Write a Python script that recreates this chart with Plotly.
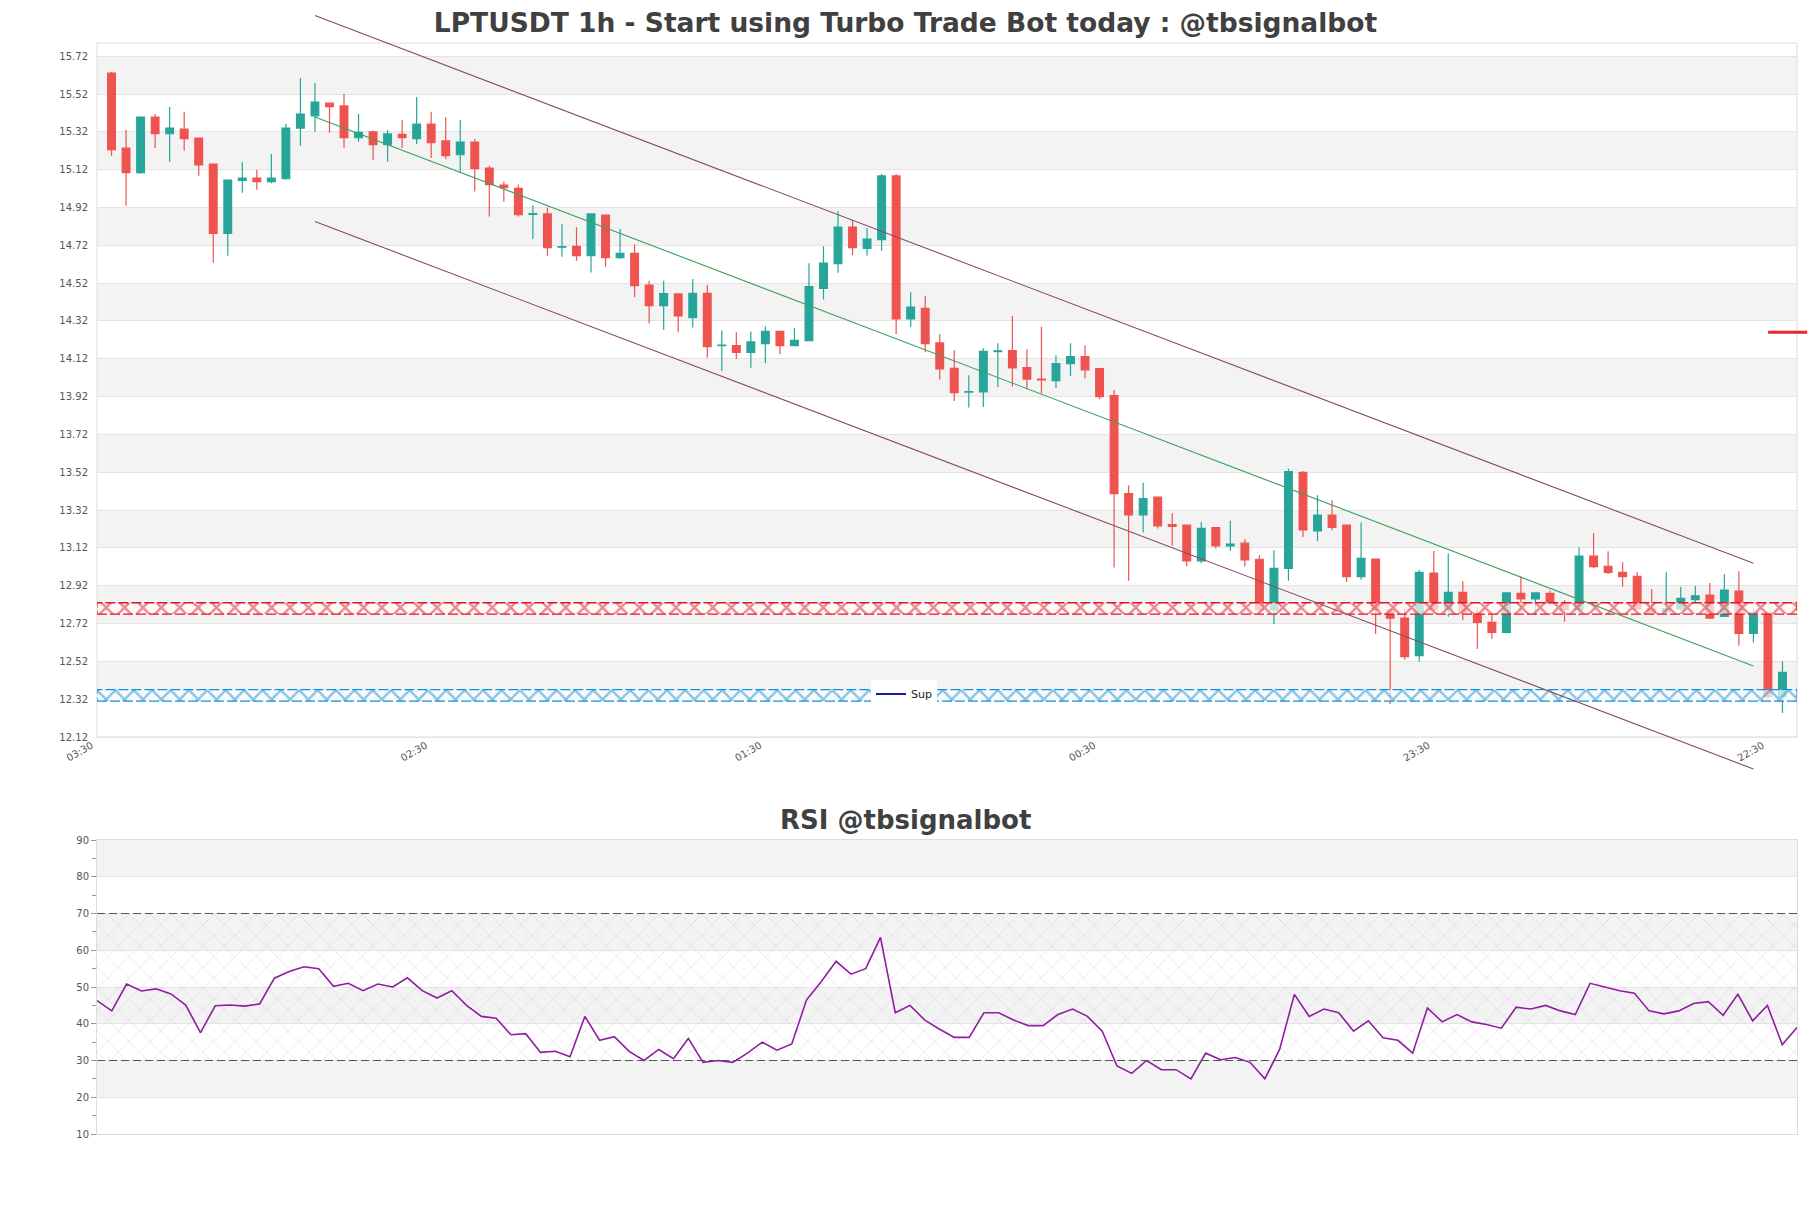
import plotly.graph_objects as go

# ---------------- data ----------------
TITLE = "LPTUSDT 1h - Start using Turbo Trade Bot today : @tbsignalbot"
RSI_TITLE = "RSI @tbsignalbot"

OPEN = [15.631, 15.234, 15.104, 15.398, 15.310, 15.335, 15.287, 15.150, 14.783, 15.064,
        15.076, 15.057, 15.072, 15.340, 15.405, 15.472, 15.457, 15.289, 15.320, 15.252,
        15.307, 15.284, 15.361, 15.272, 15.199, 15.266, 15.129, 15.039, 15.021, 14.884,
        14.886, 14.710, 14.715, 14.665, 14.880, 14.655, 14.678, 14.510, 14.401, 14.463,
        14.337, 14.466, 14.189, 14.190, 14.154, 14.200, 14.265, 14.190, 14.216, 14.492,
        14.623, 14.817, 14.704, 14.750, 15.087, 14.331, 14.387, 14.204, 14.070, 13.944,
        13.945, 14.158, 14.163, 14.073, 14.012, 14.005, 14.094, 14.131, 14.068, 13.925,
        13.407, 13.294, 13.388, 13.243, 13.240, 13.051, 13.227, 13.130, 13.145, 13.060,
        12.792, 13.012, 13.519, 13.210, 13.293, 13.240, 12.968, 13.061, 12.792, 12.749,
        12.550, 12.987, 12.797, 12.885, 12.776, 12.726, 12.673, 12.880, 12.850, 12.880,
        12.827, 12.793, 13.076, 13.023, 12.991, 12.970, 12.800, 12.783, 12.797, 12.846,
        12.871, 12.758, 12.892, 12.668, 12.776, 12.333]
HIGH = [15.636, 15.330, 15.400, 15.414, 15.451, 15.427, 15.290, 15.153, 15.065, 15.160,
        15.118, 15.203, 15.361, 15.605, 15.578, 15.472, 15.520, 15.414, 15.326, 15.330,
        15.383, 15.504, 15.427, 15.397, 15.383, 15.282, 15.141, 15.058, 15.042, 14.933,
        14.920, 14.831, 14.815, 14.886, 14.880, 14.806, 14.724, 14.533, 14.533, 14.463,
        14.542, 14.510, 14.269, 14.261, 14.265, 14.292, 14.265, 14.281, 14.625, 14.715,
        14.902, 14.854, 14.810, 15.097, 15.097, 14.472, 14.454, 14.251, 14.165, 14.033,
        14.176, 14.202, 14.346, 14.170, 14.290, 14.138, 14.202, 14.191, 14.073, 13.955,
        13.451, 13.464, 13.388, 13.303, 13.240, 13.257, 13.227, 13.263, 13.166, 13.081,
        13.108, 13.539, 13.527, 13.398, 13.372, 13.240, 13.254, 13.061, 12.792, 12.806,
        13.003, 13.104, 13.091, 12.943, 12.806, 12.767, 12.885, 12.970, 12.885, 12.894,
        12.845, 13.123, 13.197, 13.102, 13.044, 12.991, 12.903, 12.991, 12.915, 12.920,
        12.934, 12.982, 12.996, 12.797, 12.779, 12.520]
LOW = [15.194, 14.930, 15.098, 15.235, 15.162, 15.220, 15.088, 14.628, 14.665, 14.998,
       15.014, 15.048, 15.067, 15.247, 15.321, 15.316, 15.236, 15.268, 15.173, 15.162,
       15.235, 15.256, 15.182, 15.176, 15.104, 15.005, 14.873, 14.951, 14.873, 14.753,
       14.665, 14.660, 14.639, 14.577, 14.607, 14.648, 14.445, 14.307, 14.274, 14.260,
       14.285, 14.126, 14.054, 14.119, 14.073, 14.096, 14.144, 14.190, 14.216, 14.433,
       14.575, 14.669, 14.665, 14.692, 14.251, 14.290, 14.154, 14.010, 13.897, 13.862,
       13.865, 13.971, 13.973, 13.959, 13.938, 13.966, 14.029, 14.017, 13.906, 13.016,
       12.946, 13.201, 13.222, 13.131, 13.021, 13.039, 13.117, 13.104, 13.021, 12.775,
       12.718, 12.946, 13.178, 13.155, 13.213, 12.940, 12.951, 12.665, 12.294, 12.529,
       12.518, 12.770, 12.756, 12.739, 12.585, 12.638, 12.668, 12.779, 12.765, 12.815,
       12.730, 12.762, 13.012, 12.982, 12.915, 12.797, 12.767, 12.767, 12.788, 12.832,
       12.744, 12.758, 12.603, 12.620, 12.317, 12.247]
CLOSE = [15.226, 15.104, 15.398, 15.310, 15.340, 15.284, 15.146, 14.783, 15.065, 15.076,
         15.057, 15.076, 15.340, 15.414, 15.478, 15.453, 15.289, 15.317, 15.252, 15.309,
         15.289, 15.361, 15.263, 15.194, 15.266, 15.125, 15.041, 15.025, 14.882, 14.888,
         14.708, 14.713, 14.665, 14.886, 14.655, 14.678, 14.507, 14.401, 14.465, 14.347,
         14.466, 14.184, 14.192, 14.154, 14.209, 14.265, 14.190, 14.218, 14.502, 14.626,
         14.817, 14.708, 14.753, 15.087, 14.331, 14.394, 14.200, 14.066, 13.941, 13.946,
         14.160, 14.162, 14.072, 14.013, 14.009, 14.094, 14.131, 14.061, 13.920, 13.407,
         13.294, 13.381, 13.236, 13.234, 13.051, 13.224, 13.131, 13.140, 13.057, 12.792,
         13.012, 13.524, 13.215, 13.293, 13.229, 12.968, 13.065, 12.793, 12.748, 12.545,
         12.991, 12.793, 12.885, 12.776, 12.726, 12.673, 12.882, 12.850, 12.882, 12.827,
         12.793, 13.076, 13.021, 12.991, 12.968, 12.797, 12.774, 12.800, 12.853, 12.867,
         12.749, 12.897, 12.668, 12.779, 12.333, 12.462]
RSI = [46.3, 43.5, 50.8, 48.9, 49.5, 48.1, 45.1, 37.6, 44.9, 45.1,
       44.8, 45.4, 52.4, 54.2, 55.5, 55.0, 50.2, 51.0, 49.0, 50.8,
       50.0, 52.5, 49.0, 47.0, 49.0, 45.0, 42.0, 41.5, 37.0, 37.3,
       32.2, 32.5, 31.0, 42.0, 35.5, 36.5, 32.5, 30.0, 33.0, 30.5,
       36.0, 29.5, 30.0, 29.5, 32.0, 35.0, 32.8, 34.5, 46.5, 51.5,
       57.0, 53.5, 55.0, 63.5, 43.0, 45.0, 41.0, 38.5, 36.3, 36.3,
       43.0, 43.0, 41.0, 39.5, 39.5, 42.5, 44.0, 42.0, 38.0, 28.5,
       26.5, 30.0, 27.5, 27.5, 25.0, 32.0, 30.2, 30.8, 29.5, 25.0,
       33.0, 48.0, 42.0, 44.0, 43.0, 38.0, 40.8, 36.2, 35.5, 32.0,
       44.3, 40.5, 42.5, 40.5, 39.8, 38.8, 44.5, 44.0, 45.0, 43.5,
       42.5, 51.0, 50.0, 49.0, 48.3, 43.5, 42.7, 43.5, 45.5, 46.0,
       42.3, 48.0, 40.8, 45.0, 34.3, 39.0]
IDX = list(range(len(OPEN)))

X_TICK_POS = [0, 23, 46, 69, 92, 115]
X_TICK_TEXT = ["03:30", "02:30", "01:30", "00:30", "23:30", "22:30"]
Y_TICKS = [12.12, 12.32, 12.52, 12.72, 12.92, 13.12, 13.32, 13.52, 13.72, 13.92,
           14.12, 14.32, 14.52, 14.72, 14.92, 15.12, 15.32, 15.52, 15.72]
Y_TICK_TEXT = ["12.12", "12.32", "12.52", "12.72", "12.92", "13.12", "13.32", "13.52", "13.72", "13.92",
               "14.12", "14.32", "14.52", "14.72", "14.92", "15.12", "15.32", "15.52", "15.72"]
MAIN_BANDS = [(12.32, 12.52), (12.72, 12.92), (13.12, 13.32), (13.52, 13.72), (13.92, 14.12),
              (14.32, 14.52), (14.72, 14.92), (15.12, 15.32), (15.52, 15.72)]
RSI_TICKS = [10, 20, 30, 40, 50, 60, 70, 80, 90]
RSI_BANDS = [(20, 30), (40, 50), (60, 70), (80, 90)]
RSI_LEVELS = [30, 70]
RES_ZONE = [12.77, 12.83]
SUP_ZONE = [12.31, 12.37]
CHANNEL_X = [14, 113]
CHANNEL_UPPER = [15.935, 13.039]
CHANNEL_MID = [15.399, 12.496]
CHANNEL_LOWER = [14.846, 11.951]
LAST_MARK_PRICE = 14.26

# ---------------- layout geometry ----------------
FIG_W, FIG_H = 1811, 1208
M_L, M_R, M_T, M_B = 97, 14, 10, 74
PH = FIG_H - M_T - M_B


def fy(px):
    return (FIG_H - M_B - px) / PH


VIEW_BOT, VIEW_TOP = 12.12, 15.79        # visible price window (frame)
FRAME_TOP_PX, FRAME_BOT_PX = 43, 737
DOM_TOP_PX, DOM_BOT_PX = 10, 775
ppu = (FRAME_BOT_PX - FRAME_TOP_PX) / (VIEW_TOP - VIEW_BOT)
Y_RANGE = [VIEW_BOT - (DOM_BOT_PX - FRAME_BOT_PX) / ppu, VIEW_TOP + (FRAME_TOP_PX - DOM_TOP_PX) / ppu]
X_RANGE = [-1, 116]
RSI_X_RANGE = [0, len(RSI) - 1]
RSI_RANGE = [10, 90]

UP, DOWN = "#26a69a", "#ef5350"
GRID = "#e4e4e4"
BAND = "#f3f3f3"
FRAME = "#dcdcdc"
TXT = "#555555"

fig = go.Figure()

# support / resistance hatched zones
for zone, col in [(RES_ZONE, "#e0181e"), (SUP_ZONE, "#1590d6")]:
    fig.add_trace(go.Scatter(
        x=[X_RANGE[0], X_RANGE[1], X_RANGE[1], X_RANGE[0], X_RANGE[0]],
        y=[zone[0], zone[0], zone[1], zone[1], zone[0]],
        mode="lines", fill="toself",
        fillpattern=dict(shape="x", fgcolor=col, bgcolor="rgba(255,255,255,0.7)", size=13, solidity=0.35),
        line=dict(color=col, width=1.3, dash="10px,3px"),
        hoverinfo="skip", showlegend=False, xaxis="x", yaxis="y"))

# candles
fig.add_trace(go.Candlestick(
    x=IDX, open=OPEN, high=HIGH, low=LOW, close=CLOSE,
    increasing=dict(line=dict(color=UP, width=1.2), fillcolor=UP),
    decreasing=dict(line=dict(color=DOWN, width=1.2), fillcolor=DOWN),
    whiskerwidth=0, showlegend=False, xaxis="x", yaxis="y"))

# channel lines
for ys, col in [(CHANNEL_UPPER, "#8a4a60"), (CHANNEL_LOWER, "#8a4a60"), (CHANNEL_MID, "#3aa35c")]:
    fig.add_trace(go.Scatter(x=CHANNEL_X, y=ys, mode="lines", line=dict(color=col, width=1.1),
                             hoverinfo="skip", showlegend=False, xaxis="x", yaxis="y"))

# legend entry
fig.add_trace(go.Scatter(x=[None], y=[None], mode="lines", name="Sup",
                         line=dict(color="#1a1aa0", width=2), xaxis="x", yaxis="y"))

# RSI hatch zone
fig.add_trace(go.Scatter(
    x=[RSI_X_RANGE[0], RSI_X_RANGE[1], RSI_X_RANGE[1], RSI_X_RANGE[0], RSI_X_RANGE[0]],
    y=[RSI_LEVELS[0], RSI_LEVELS[0], RSI_LEVELS[1], RSI_LEVELS[1], RSI_LEVELS[0]],
    mode="lines", fill="toself",
    fillpattern=dict(shape="x", fgcolor="rgba(205,175,220,0.65)", bgcolor="rgba(0,0,0,0)", size=15, solidity=0.12),
    line=dict(width=0), hoverinfo="skip", showlegend=False, xaxis="x2", yaxis="y2"))

# RSI line
fig.add_trace(go.Scatter(x=list(range(len(RSI))), y=RSI, mode="lines",
                         line=dict(color="#8e1f9e", width=1.6), showlegend=False,
                         xaxis="x2", yaxis="y2"))

shapes = []
for lo, hi in MAIN_BANDS:
    shapes.append(dict(type="rect", xref="x domain", x0=0, x1=1, yref="y", y0=lo, y1=hi,
                       fillcolor=BAND, line=dict(width=0), layer="below"))
shapes.append(dict(type="rect", xref="x domain", x0=0, x1=1, yref="y", y0=VIEW_BOT, y1=VIEW_TOP,
                   fillcolor="rgba(0,0,0,0)", line=dict(color=FRAME, width=1), layer="below"))
for lo, hi in RSI_BANDS:
    shapes.append(dict(type="rect", xref="x2 domain", x0=0, x1=1, yref="y2", y0=lo, y1=hi,
                       fillcolor=BAND, line=dict(width=0), layer="below"))
for lv in RSI_LEVELS:
    shapes.append(dict(type="line", xref="x2 domain", x0=0, x1=1, yref="y2", y0=lv, y1=lv,
                       line=dict(color="#555555", width=1.2, dash="8px,4px")))
shapes.append(dict(type="line", xref="paper", x0=0.983, x1=1.006, yref="y",
                   y0=LAST_MARK_PRICE, y1=LAST_MARK_PRICE, line=dict(color="#e8262b", width=3)))

fig.update_layout(
    width=FIG_W, height=FIG_H, autosize=False,
    margin=dict(l=M_L, r=M_R, t=M_T, b=M_B, autoexpand=False),
    paper_bgcolor="white", plot_bgcolor="white",
    font=dict(family="DejaVu Sans", size=10, color=TXT),
    title=dict(text=TITLE, x=0.5, xref="container", xanchor="center",
               y=1 - 23 / FIG_H, yref="container", yanchor="middle", automargin=False,
               font=dict(family="DejaVu Sans", size=26.5, color="#404040", weight="bold")),
    boxgap=0.24,
    showlegend=True,
    legend=dict(x=(904 - M_L) / (FIG_W - M_L - M_R), y=fy(694), xanchor="center", yanchor="middle",
                bgcolor="white", borderwidth=0, font=dict(size=11, color="#222222"),
                itemwidth=30),
    xaxis=dict(domain=[0, 1], range=X_RANGE, anchor="free", position=fy(FRAME_BOT_PX),
               tickvals=X_TICK_POS, ticktext=X_TICK_TEXT, tickangle=-30, ticklabelshift=-20,
               tickfont=dict(size=10, color=TXT), showgrid=False, zeroline=False,
               showline=False, ticks="", automargin=False, rangeslider=dict(visible=False)),
    yaxis=dict(domain=[fy(DOM_BOT_PX), fy(DOM_TOP_PX)], range=Y_RANGE, anchor="x",
               tickvals=Y_TICKS, ticktext=Y_TICK_TEXT, tickfont=dict(size=10, color=TXT),
               showgrid=True, gridcolor=GRID, gridwidth=1, zeroline=False, showline=False,
               ticks="", ticklabelstandoff=8, automargin=False),
    xaxis2=dict(domain=[0, 1], range=RSI_X_RANGE, anchor="y2", showticklabels=False,
                showgrid=False, zeroline=False, showline=True, mirror=True, linecolor=FRAME,
                ticks="", automargin=False),
    yaxis2=dict(domain=[0, fy(840)], range=RSI_RANGE, anchor="x2",
                tickvals=RSI_TICKS, tickfont=dict(size=10, color=TXT),
                showgrid=True, gridcolor=GRID, zeroline=False, showline=True, mirror=True,
                linecolor=FRAME, ticks="outside", ticklen=5, tickcolor="#999999", automargin=False,
                minor=dict(dtick=5, tick0=0, ticks="outside", ticklen=4, tickcolor="#999999", showgrid=False)),
    shapes=shapes,
    annotations=[dict(text=RSI_TITLE, xref="paper", yref="paper",
                      x=(905.5 - M_L) / (FIG_W - M_L - M_R), y=fy(820),
                      xanchor="center", yanchor="middle", showarrow=False,
                      font=dict(family="DejaVu Sans", size=26, color="#404040", weight="bold"))],
)

fig.write_html("out.html", config={"displayModeBar": False},
               post_script="document.body.style.margin='0';")
